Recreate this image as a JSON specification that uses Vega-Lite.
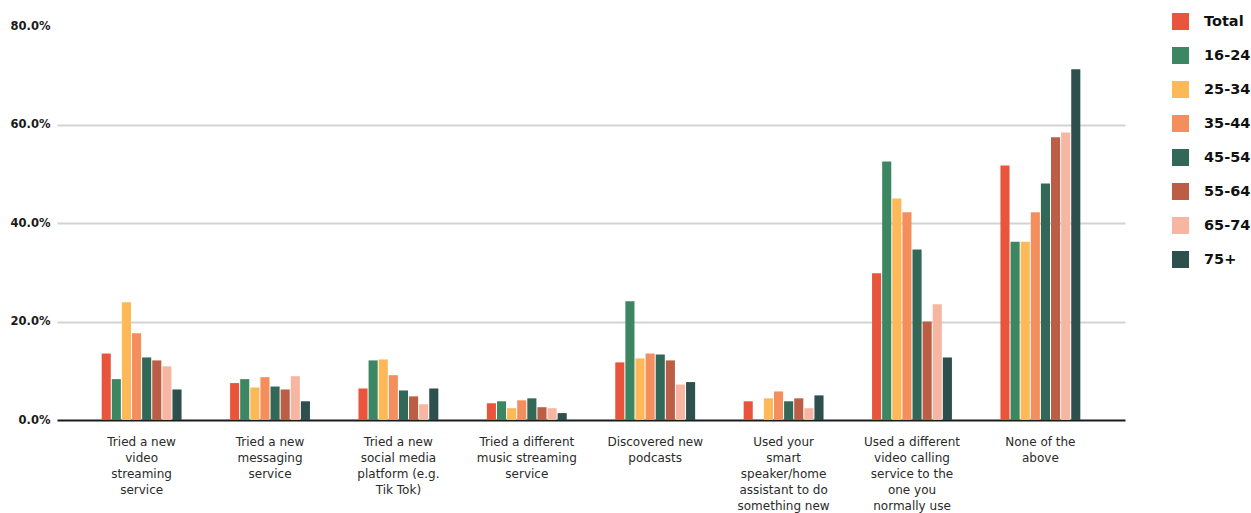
{
  "$schema": "https://vega.github.io/schema/vega-lite/v6.json",
  "width": 1068,
  "height": 394,
  "autosize": {"type": "none"},
  "padding": {"left": 57, "top": 26, "right": 126, "bottom": 93},
  "config": {"view": {"stroke": null}, "font": "DejaVu Sans"},
  "data": {
    "values": [
      {"activity": "Tried a new|video|streaming|service", "group": "Total", "share": 0.135},
      {"activity": "Tried a new|video|streaming|service", "group": "16-24", "share": 0.083},
      {"activity": "Tried a new|video|streaming|service", "group": "25-34", "share": 0.239},
      {"activity": "Tried a new|video|streaming|service", "group": "35-44", "share": 0.176},
      {"activity": "Tried a new|video|streaming|service", "group": "45-54", "share": 0.127},
      {"activity": "Tried a new|video|streaming|service", "group": "55-64", "share": 0.121},
      {"activity": "Tried a new|video|streaming|service", "group": "65-74", "share": 0.109},
      {"activity": "Tried a new|video|streaming|service", "group": "75+", "share": 0.062},

      {"activity": "Tried a new|messaging|service", "group": "Total", "share": 0.075},
      {"activity": "Tried a new|messaging|service", "group": "16-24", "share": 0.083},
      {"activity": "Tried a new|messaging|service", "group": "25-34", "share": 0.066},
      {"activity": "Tried a new|messaging|service", "group": "35-44", "share": 0.087},
      {"activity": "Tried a new|messaging|service", "group": "45-54", "share": 0.068},
      {"activity": "Tried a new|messaging|service", "group": "55-64", "share": 0.062},
      {"activity": "Tried a new|messaging|service", "group": "65-74", "share": 0.089},
      {"activity": "Tried a new|messaging|service", "group": "75+", "share": 0.038},

      {"activity": "Tried a new|social media|platform (e.g.|Tik Tok)", "group": "Total", "share": 0.064},
      {"activity": "Tried a new|social media|platform (e.g.|Tik Tok)", "group": "16-24", "share": 0.121},
      {"activity": "Tried a new|social media|platform (e.g.|Tik Tok)", "group": "25-34", "share": 0.123},
      {"activity": "Tried a new|social media|platform (e.g.|Tik Tok)", "group": "35-44", "share": 0.091},
      {"activity": "Tried a new|social media|platform (e.g.|Tik Tok)", "group": "45-54", "share": 0.06},
      {"activity": "Tried a new|social media|platform (e.g.|Tik Tok)", "group": "55-64", "share": 0.048},
      {"activity": "Tried a new|social media|platform (e.g.|Tik Tok)", "group": "65-74", "share": 0.032},
      {"activity": "Tried a new|social media|platform (e.g.|Tik Tok)", "group": "75+", "share": 0.064},

      {"activity": "Tried a different|music streaming|service", "group": "Total", "share": 0.034},
      {"activity": "Tried a different|music streaming|service", "group": "16-24", "share": 0.038},
      {"activity": "Tried a different|music streaming|service", "group": "25-34", "share": 0.024},
      {"activity": "Tried a different|music streaming|service", "group": "35-44", "share": 0.04},
      {"activity": "Tried a different|music streaming|service", "group": "45-54", "share": 0.044},
      {"activity": "Tried a different|music streaming|service", "group": "55-64", "share": 0.026},
      {"activity": "Tried a different|music streaming|service", "group": "65-74", "share": 0.024},
      {"activity": "Tried a different|music streaming|service", "group": "75+", "share": 0.014},

      {"activity": "Discovered new|podcasts", "group": "Total", "share": 0.117},
      {"activity": "Discovered new|podcasts", "group": "16-24", "share": 0.241},
      {"activity": "Discovered new|podcasts", "group": "25-34", "share": 0.125},
      {"activity": "Discovered new|podcasts", "group": "35-44", "share": 0.135},
      {"activity": "Discovered new|podcasts", "group": "45-54", "share": 0.133},
      {"activity": "Discovered new|podcasts", "group": "55-64", "share": 0.121},
      {"activity": "Discovered new|podcasts", "group": "65-74", "share": 0.072},
      {"activity": "Discovered new|podcasts", "group": "75+", "share": 0.077},

      {"activity": "Used your|smart|speaker/home|assistant to do|something new", "group": "Total", "share": 0.038},
      {"activity": "Used your|smart|speaker/home|assistant to do|something new", "group": "16-24", "share": 0},
      {"activity": "Used your|smart|speaker/home|assistant to do|something new", "group": "25-34", "share": 0.044},
      {"activity": "Used your|smart|speaker/home|assistant to do|something new", "group": "35-44", "share": 0.058},
      {"activity": "Used your|smart|speaker/home|assistant to do|something new", "group": "45-54", "share": 0.038},
      {"activity": "Used your|smart|speaker/home|assistant to do|something new", "group": "55-64", "share": 0.044},
      {"activity": "Used your|smart|speaker/home|assistant to do|something new", "group": "65-74", "share": 0.024},
      {"activity": "Used your|smart|speaker/home|assistant to do|something new", "group": "75+", "share": 0.05},

      {"activity": "Used a different|video calling|service to the|one you|normally use", "group": "Total", "share": 0.298},
      {"activity": "Used a different|video calling|service to the|one you|normally use", "group": "16-24", "share": 0.525},
      {"activity": "Used a different|video calling|service to the|one you|normally use", "group": "25-34", "share": 0.45},
      {"activity": "Used a different|video calling|service to the|one you|normally use", "group": "35-44", "share": 0.422},
      {"activity": "Used a different|video calling|service to the|one you|normally use", "group": "45-54", "share": 0.346},
      {"activity": "Used a different|video calling|service to the|one you|normally use", "group": "55-64", "share": 0.2},
      {"activity": "Used a different|video calling|service to the|one you|normally use", "group": "65-74", "share": 0.235},
      {"activity": "Used a different|video calling|service to the|one you|normally use", "group": "75+", "share": 0.127},

      {"activity": "None of the|above", "group": "Total", "share": 0.517},
      {"activity": "None of the|above", "group": "16-24", "share": 0.362},
      {"activity": "None of the|above", "group": "25-34", "share": 0.362},
      {"activity": "None of the|above", "group": "35-44", "share": 0.422},
      {"activity": "None of the|above", "group": "45-54", "share": 0.48},
      {"activity": "None of the|above", "group": "55-64", "share": 0.574},
      {"activity": "None of the|above", "group": "65-74", "share": 0.584},
      {"activity": "None of the|above", "group": "75+", "share": 0.712}
    ]
  },
  "mark": {"type": "bar"},
  "encoding": {
    "x": {
      "field": "activity",
      "type": "nominal",
      "sort": null,
      "scale": {"paddingInner": 0.37, "paddingOuter": 0.344},
      "axis": {
        "title": null,
        "labelAngle": 0,
        "labelExpr": "split(datum.label, '|')",
        "ticks": false,
        "domainColor": "#1b1b1b",
        "domainWidth": 2,
        "labelFontSize": 12,
        "labelColor": "#2a2a2a",
        "labelLineHeight": 16,
        "labelPadding": 16,
        "labelLimit": 0
      }
    },
    "xOffset": {
      "field": "group",
      "type": "nominal",
      "sort": ["Total", "16-24", "25-34", "35-44", "45-54", "55-64", "65-74", "75+"],
      "scale": {"paddingInner": 0.1, "paddingOuter": 0.05}
    },
    "y": {
      "field": "share",
      "type": "quantitative",
      "scale": {"domain": [0, 0.8]},
      "axis": {
        "title": null,
        "values": [0, 0.2, 0.4, 0.6, 0.8],
        "format": ".1%",
        "domain": false,
        "ticks": false,
        "labelPadding": 7,
        "labelFontSize": 11.5,
        "labelFontWeight": "bold",
        "labelColor": "#1a1a1a",
        "gridColor": "#d3d3d3",
        "gridWidth": 2,
        "gridOpacity": {"condition": {"test": "datum.value < 0.1 || datum.value > 0.7", "value": 0}, "value": 1}
      }
    },
    "color": {
      "field": "group",
      "type": "nominal",
      "sort": ["Total", "16-24", "25-34", "35-44", "45-54", "55-64", "65-74", "75+"],
      "scale": {
        "domain": ["Total", "16-24", "25-34", "35-44", "45-54", "55-64", "65-74", "75+"],
        "range": ["#E9553C", "#3C8661", "#FDB857", "#F58E5D", "#316857", "#BC5E45", "#F6B6A2", "#2D4F4D"]
      },
      "legend": {
        "title": null,
        "orient": "none",
        "legendX": 1115,
        "legendY": -13,
        "symbolType": "square",
        "symbolSize": 289,
        "symbolStrokeWidth": 0,
        "symbolOpacity": 1,
        "labelFontSize": 14.5,
        "labelFontWeight": "bold",
        "labelColor": "#111111",
        "labelOffset": 15,
        "rowPadding": 17
      }
    }
  }
}
